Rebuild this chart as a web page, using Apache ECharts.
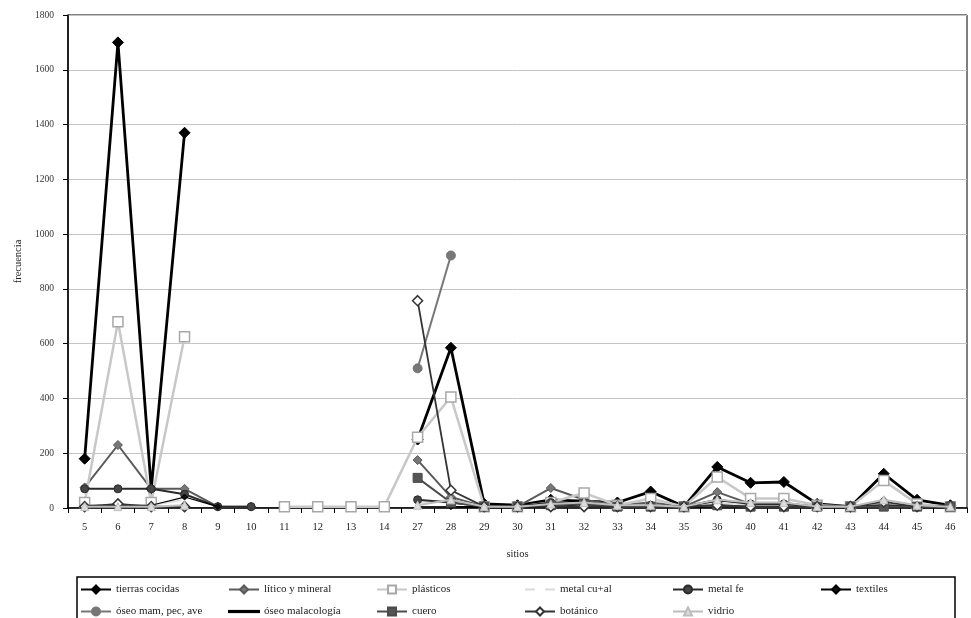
<!DOCTYPE html>
<html>
<head>
<meta charset="utf-8">
<script src="https://cdn.jsdelivr.net/npm/echarts@6/dist/echarts.min.js"></script>
<style>html,body{margin:0;padding:0;background:#fff;}#c{width:971px;height:618px;}</style>
</head>
<body>
<div id="c"></div>
<script>
const categories = ['5','6','7','8','9','10','11','12','13','14','27','28','29','30','31','32','33','34','35','36','40','41','42','43','44','45','46'];
const yTicks = {min: 0, max: 1800, interval: 200};

const tierrasCocidas = [180,1700,70,1370,null,null,null,null,null,null,250,585,15,10,30,25,20,60,5,150,92,95,15,5,125,30,10];
const liticoMineral  = [75,230,70,70,5,5,null,null,null,null,175,40,5,5,73,30,10,20,5,58,15,10,5,5,10,5,5];
const plasticos      = [20,680,20,625,null,null,5,5,5,5,258,405,5,5,20,55,10,35,5,113,35,35,10,5,100,15,5];
const metalCuAl      = [10,10,10,30,null,null,null,null,null,null,20,30,5,5,10,10,5,10,5,20,10,10,5,5,10,5,5];
const metalFe        = [70,70,70,50,5,5,null,null,null,null,30,20,5,5,20,15,5,10,5,30,15,15,5,5,10,5,10];
const textiles       = [10,10,10,40,5,null,null,null,null,null,null,5,5,10,15,5,10,5,5,25,20,20,5,5,5,5,10];
const oseoMam        = [null,null,null,null,null,null,null,null,null,null,510,922,null,null,null,null,null,null,null,null,null,null,null,null,null,null,null];
const oseoMala       = [5,5,5,5,null,null,null,null,null,null,5,5,0,0,5,5,5,5,0,5,5,5,0,0,5,0,0];
const cuero          = [null,null,null,null,null,null,null,null,null,null,110,20,5,5,10,15,5,5,5,10,5,5,5,5,5,5,5];
const botanico       = [5,15,5,5,null,null,null,null,null,null,757,65,5,5,5,5,5,5,5,10,5,5,5,5,22,5,null];
const vidrio         = [5,5,5,10,null,null,null,null,null,null,10,30,5,5,15,20,10,10,5,30,20,20,5,5,30,10,5];

const seriesNames = ['tierras cocidas','lítico y mineral','plásticos','metal cu+al','metal fe','textiles',
  'óseo mam, pec, ave','óseo malacología','cuero','botánico','vidrio'];
const seriesData = [tierrasCocidas, liticoMineral, plasticos, metalCuAl, metalFe, textiles,
  oseoMam, oseoMala, cuero, botanico, vidrio];

const styles = [
  {c:'#000000', sym:'diamond', size:11, w:2.8, fill:'#000000'},
  {c:'#5a5a5a', sym:'diamond', size:9, w:2, fill:'#777777'},
  {c:'#c8c8c8', sym:'rect', size:10, w:2.5, fill:'#ffffff', bc:'#a8a8a8'},
  {c:'#dadada', sym:'emptyCircle', size:4, w:1.5, fill:'#ffffff'},
  {c:'#2a2a2a', sym:'circle', size:8, w:2, fill:'#444444'},
  {c:'#000000', sym:'diamond', size:6, w:1.2, fill:'#111111'},
  {c:'#777777', sym:'circle', size:9, w:2, fill:'#777777'},
  {c:'#000000', sym:'none', size:4, w:1, fill:'#000000'},
  {c:'#4a4a4a', sym:'rect', size:9, w:2, fill:'#555555'},
  {c:'#333333', sym:'diamond', size:10, w:1.8, fill:'#ffffff', bc:'#333333'},
  {c:'#bdbdbd', sym:'triangle', size:8, w:2, fill:'#dddddd'}
];

const font = 'Liberation Serif';
const series = seriesNames.map((n, i) => {
  const s = styles[i];
  return {
    name: n, type: 'line', data: seriesData[i],
    symbol: s.sym, symbolSize: s.size, showSymbol: s.sym !== 'none',
    lineStyle: {color: s.c, width: s.w},
    itemStyle: {color: s.fill, borderColor: s.bc || s.c, borderWidth: s.bc ? 1.5 : 1},
    emphasis: {disabled: true},
    animation: false, z: 2 + i
  };
});

const legends = seriesNames.map((n, i) => {
  const row = i < 6 ? 0 : 1;
  const col = i < 6 ? i : i - 6;
  const noSym = styles[i].sym === 'none';
  return {
    orient: 'horizontal', left: 80 + col * 148, top: 584 + row * 22, padding: 0,
    itemWidth: 30, itemHeight: noSym ? 1.2 : 10, itemGap: 0, selectedMode: false,
    textStyle: {fontFamily: font, fontSize: 11, color: '#222'},
    data: noSym ? [{name: n, icon: 'rect', itemStyle: {color: '#000'}}] : [n]
  };
});

const chart = echarts.init(document.getElementById('c'), null, {renderer: 'canvas'});
chart.setOption({
  backgroundColor: '#ffffff',
  animation: false,
  grid: {left: 68, right: 4, top: 15, bottom: 110, show: true, borderColor: '#000', borderWidth: 1},
  xAxis: {
    type: 'category', data: categories, boundaryGap: true,
    name: 'sitios', nameLocation: 'middle', nameGap: 41,
    nameTextStyle: {fontFamily: font, fontSize: 10.5, color: '#222'},
    axisLine: {lineStyle: {color: '#000', width: 1.5}},
    axisTick: {show: true, alignWithLabel: false, length: 5, lineStyle: {color: '#000'}},
    axisLabel: {fontFamily: font, fontSize: 10.5, color: '#222', margin: 14, interval: 0},
    splitLine: {show: false}
  },
  yAxis: {
    type: 'value', min: yTicks.min, max: yTicks.max, interval: yTicks.interval,
    name: 'frecuencia', nameLocation: 'middle', nameGap: 44, nameRotate: 90,
    nameTextStyle: {fontFamily: font, fontSize: 10.5, color: '#222'},
    axisLine: {show: true, lineStyle: {color: '#000', width: 1.5}},
    axisTick: {show: true, length: 5, lineStyle: {color: '#000'}},
    axisLabel: {fontFamily: font, fontSize: 9.5, color: '#333', margin: 14, formatter: v => String(v)},
    splitLine: {show: true, lineStyle: {color: '#c4c4c4', width: 1}}
  },
  legend: legends,
  graphic: [{
    type: 'rect', shape: {x: 77, y: 577, width: 878, height: 60},
    style: {fill: 'none', stroke: '#000', lineWidth: 1.5}, silent: true
  }],
  series: series
});
</script>
</body>
</html>
